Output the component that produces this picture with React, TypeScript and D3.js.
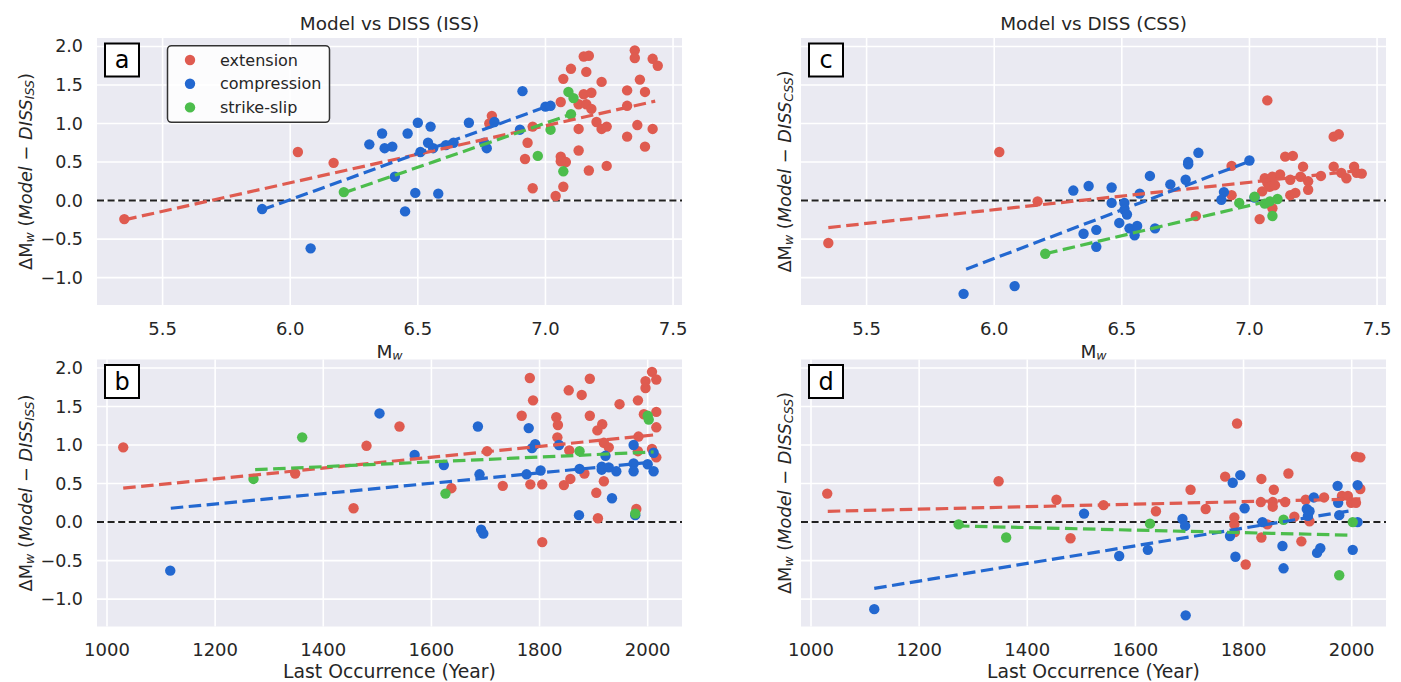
import * as d3 from "d3";

type Pt = [number, number];
type Fit = [number, number, number, number];

// colours for the three fault types
const COLORS = { ext: "#df5b50", comp: "#2368d0", strike: "#4cbd4c" };
const CATEGORIES = ["extension", "compression", "strike-slip"];

// panel a: Mw vs dISS
const aExt: Pt[] = [[5.35,-0.24],[6.03,0.63],[6.17,0.49],[6.79,1.1],[6.78,1.0],[6.95,0.96],[6.93,0.75],[6.92,0.54],[6.95,0.16],[7.04,0.06],[7.07,0.18],[7.06,0.57],[7.08,0.5],[7.06,0.51],[7.06,1.28],[7.07,1.58],[7.1,1.71],[7.15,1.87],[7.17,1.88],[7.16,1.67],[7.15,1.38],[7.18,1.4],[7.13,1.25],[7.16,1.25],[7.18,1.19],[7.13,0.93],[7.13,0.65],[7.17,0.39],[7.22,1.54],[7.2,1.02],[7.22,0.93],[7.24,0.96],[7.24,0.45],[7.32,1.43],[7.35,1.95],[7.35,1.85],[7.37,1.57],[7.32,1.23],[7.32,0.83],[7.36,0.98],[7.39,0.7],[7.39,1.41],[7.42,0.93],[7.42,1.84],[7.44,1.75]];
const aComp: Pt[] = [[5.89,-0.11],[6.08,-0.62],[6.31,0.73],[6.36,0.87],[6.37,0.68],[6.4,0.7],[6.41,0.31],[6.46,0.87],[6.45,-0.14],[6.5,1.01],[6.49,0.1],[6.51,0.63],[6.54,0.75],[6.55,0.96],[6.56,0.68],[6.58,0.09],[6.61,0.72],[6.64,0.75],[6.7,1.01],[6.76,0.75],[6.77,0.68],[6.8,1.02],[6.9,0.92],[6.91,1.42],[7.0,1.22],[7.02,1.23]];
const aStrike: Pt[] = [[6.21,0.11],[6.97,0.58],[7.02,0.92],[7.07,0.38],[7.09,1.41],[7.11,1.33],[7.1,1.12]];

// panel c: Mw vs dCSS
const cExt: Pt[] = [[5.35,-0.55],[6.02,0.63],[6.17,-0.01],[6.79,-0.2],[6.93,0.45],[6.93,0.07],[7.04,-0.24],[7.07,1.3],[7.06,0.29],[7.07,0.23],[7.08,0.18],[7.09,0.31],[7.09,-0.1],[7.12,0.34],[7.14,0.57],[7.17,0.58],[7.16,0.27],[7.16,0.07],[7.18,0.1],[7.2,0.31],[7.21,0.44],[7.23,0.25],[7.23,0.14],[7.33,0.44],[7.33,0.83],[7.35,0.86],[7.36,0.36],[7.38,0.29],[7.41,0.44],[7.42,0.36],[7.44,0.35],[7.1,0.2],[7.05,0.12],[7.28,0.32]];
const cComp: Pt[] = [[5.88,-1.21],[6.08,-1.11],[6.31,0.13],[6.35,-0.43],[6.37,0.19],[6.4,-0.38],[6.4,-0.6],[6.46,0.17],[6.46,-0.03],[6.49,-0.29],[6.51,-0.03],[6.51,-0.12],[6.52,-0.18],[6.53,-0.36],[6.55,-0.45],[6.56,-0.33],[6.57,0.09],[6.61,0.32],[6.63,-0.36],[6.69,0.21],[6.75,0.27],[6.76,0.47],[6.76,0.5],[6.8,0.62],[6.9,0.11],[6.89,0.01],[7.0,0.52],[7.02,0.04]];
const cStrike: Pt[] = [[6.2,-0.69],[6.96,-0.03],[7.02,0.05],[7.06,-0.04],[7.08,-0.01],[7.09,-0.2],[7.11,0.02]];

// panel b: year vs dISS
const bExt: Pt[] = [[1030,0.97],[1348,0.63],[1456,0.18],[1480,0.99],[1541,1.24],[1637,0.44],[1703,0.92],[1732,0.47],[1767,1.38],[1782,1.87],[1788,1.58],[1783,0.49],[1805,0.49],[1805,-0.26],[1831,1.36],[1834,1.26],[1833,1.1],[1845,0.48],[1857,0.56],[1854,1.71],[1878,1.65],[1893,1.86],[1855,0.93],[1883,0.63],[1893,1.38],[1905,0.38],[1908,0.05],[1907,1.19],[1916,1.27],[1919,1.03],[1928,0.97],[1919,0.53],[1948,1.53],[1979,0.17],[1982,1.58],[1982,0.92],[1983,1.11],[1996,1.74],[1996,1.83],[2008,1.95],[2016,1.85],[2016,1.43],[2016,1.23],[2016,0.84],[2008,0.95],[1993,1.4]];
const bComp: Pt[] = [[1117,-0.63],[1504,1.41],[1569,0.87],[1623,0.74],[1686,1.24],[1689,0.62],[1692,-0.1],[1696,-0.15],[1780,1.22],[1776,0.62],[1786,0.96],[1792,1.01],[1802,0.67],[1836,1.0],[1874,0.69],[1873,0.09],[1915,0.72],[1915,0.68],[1922,0.86],[1928,0.71],[1942,0.66],[1934,0.31],[1974,1.0],[1974,0.76],[1974,0.66],[1977,0.09],[2000,0.75],[2011,0.9],[2011,0.66]];
const bStrike: Pt[] = [[1271,0.56],[1361,1.1],[1626,0.37],[1874,0.92],[1977,0.11],[2000,1.38],[2002,1.33]];

// panel d: year vs dCSS
const dExt: Pt[] = [[1030,0.37],[1347,0.53],[1454,0.29],[1480,-0.21],[1541,0.22],[1638,0.14],[1702,0.42],[1730,0.17],[1766,0.59],[1788,1.28],[1783,0.06],[1783,-0.03],[1784,-0.13],[1804,-0.55],[1833,0.56],[1832,0.26],[1833,-0.2],[1844,-0.03],[1856,0.42],[1854,0.26],[1854,0.2],[1877,0.26],[1883,0.63],[1894,0.07],[1907,-0.25],[1915,0.29],[1922,0.01],[1949,0.32],[1982,0.34],[1993,0.34],[1999,0.25],[2008,0.85],[2016,0.84],[2016,0.43],[2008,0.25]];
const dComp: Pt[] = [[1117,-1.13],[1505,0.11],[1570,-0.44],[1623,-0.36],[1687,0.04],[1692,-0.05],[1693,-1.21],[1780,0.51],[1794,0.61],[1775,-0.18],[1785,-0.45],[1802,0.18],[1835,0.0],[1872,-0.31],[1874,-0.6],[1917,0.17],[1922,0.14],[1919,0.08],[1930,0.32],[1936,-0.4],[1942,-0.34],[1974,0.47],[1975,0.25],[1977,0.09],[2002,-0.36],[2011,0.0],[2011,0.48]];
const dStrike: Pt[] = [[1273,-0.03],[1361,-0.2],[1627,-0.02],[1874,0.03],[1977,-0.69],[2002,0.0]];

// regression lines [x0, y0, x1, y1] for ext / comp / strike
const aFits: Fit[] = [[5.35,-0.25,7.43,1.29],[5.89,-0.12,7.03,1.25],[6.21,0.1,7.1,1.12]];
const cFits: Fit[] = [[5.35,-0.35,7.43,0.39],[5.89,-0.89,7.0,0.51],[6.2,-0.69,7.12,0.03]];
const bFits: Fit[] = [[1030,0.44,2010,1.13],[1118,0.18,2011,0.78],[1274,0.68,2011,0.91]];
const dFits: Fit[] = [[1031,0.14,2016,0.3],[1117,-0.86,2000,0.15],[1270,-0.05,2000,-0.17]];

const MW_TICKS = [5.5, 6.0, 6.5, 7.0, 7.5];
const YEAR_TICKS = [1000, 1200, 1400, 1600, 1800, 2000];
const DY_TICKS = [-1.0, -0.5, 0.0, 0.5, 1.0, 1.5, 2.0];

const MW_DOMAIN: [number, number] = [5.243, 7.535];
const YEAR_DOMAIN: [number, number] = [981.5, 2063.5];
const DY_DOMAIN: [number, number] = [-1.355, 2.11];

const FONT = "DejaVu Sans, sans-serif";
const TEXT = "#262626";
const PW = 585;
const PH = 267;

interface PanelProps {
  left: number;
  top: number;
  xDomain: [number, number];
  xTicks: number[];
  xFmt: (v: number) => string;
  series: Pt[][];
  fits: Fit[];
  letter: string;
  yTickLabels: boolean;
  yLabelOffset: number;
  sub: string;
  title?: string;
  xLabel: "mw" | "year";
  legend?: boolean;
}

function Panel(p: PanelProps) {
  const x = d3.scaleLinear().domain(p.xDomain).range([p.left, p.left + PW]);
  const y = d3.scaleLinear().domain(DY_DOMAIN).range([p.top + PH, p.top]);
  const fmt = d3.format(".1f");
  const cols = [COLORS.ext, COLORS.comp, COLORS.strike];
  const cx = p.left + PW / 2;
  const cy = p.top + PH / 2;
  const lx = p.left - p.yLabelOffset;

  return (
    <g fontFamily={FONT} fill={TEXT}>
      {p.title && (
        <text x={cx} y={p.top - 15} textAnchor="middle" dominantBaseline="central" fontSize={18.4}>
          {p.title}
        </text>
      )}
      <rect x={p.left} y={p.top} width={PW} height={PH} fill="#eaeaf2" />
      {p.xTicks.map((t) => (
        <line key={"gx" + t} x1={x(t)} x2={x(t)} y1={p.top} y2={p.top + PH} stroke="#fff" strokeWidth={1.6} />
      ))}
      {DY_TICKS.map((t) => (
        <line key={"gy" + t} x1={p.left} x2={p.left + PW} y1={y(t)} y2={y(t)} stroke="#fff" strokeWidth={1.6} />
      ))}
      <line x1={p.left} x2={p.left + PW} y1={y(0)} y2={y(0)} stroke="#222" strokeWidth={2} strokeDasharray="7,3.6" />
      {p.series.map((pts, i) =>
        pts.map((d, j) => <circle key={`p${i}-${j}`} cx={x(d[0])} cy={y(d[1])} r={5.2} fill={cols[i]} />)
      )}
      {p.fits.map((f, i) => (
        <line
          key={"f" + i}
          x1={x(f[0])}
          y1={y(f[1])}
          x2={x(f[2])}
          y2={y(f[3])}
          stroke={cols[i]}
          strokeWidth={3.2}
          strokeDasharray="12.5,5.5"
        />
      ))}
      {/* tick labels */}
      {p.xTicks.map((t) => (
        <text key={"tx" + t} x={x(t)} y={p.top + PH + 23} textAnchor="middle" dominantBaseline="central" fontSize={18}>
          {p.xFmt(t)}
        </text>
      ))}
      {p.yTickLabels &&
        DY_TICKS.map((t) => (
          <text key={"ty" + t} x={p.left - 14} y={y(t)} textAnchor="end" dominantBaseline="central" fontSize={17.5}>
            {fmt(t)}
          </text>
        ))}
      {/* axis labels */}
      {p.xLabel === "mw" ? (
        <text x={cx} y={p.top + PH + 46} textAnchor="middle" dominantBaseline="central" fontSize={18.5}>
          M<tspan fontSize={12.5} fontStyle="italic" dy={4}>w</tspan>
        </text>
      ) : (
        <text x={cx} y={p.top + PH + 45} textAnchor="middle" dominantBaseline="central" fontSize={18.8}>
          Last Occurrence (Year)
        </text>
      )}
      <text
        transform={`translate(${lx},${cy}) rotate(-90)`}
        textAnchor="middle"
        dominantBaseline="central"
        fontSize={17.8}
      >
        ΔM<tspan fontSize={12.5} fontStyle="italic" dy={4}>w</tspan>
        <tspan dy={-4}> (</tspan>
        <tspan fontStyle="italic">Model − DISS</tspan>
        <tspan fontSize={12.5} fontStyle="italic" dy={4}>{p.sub}</tspan>
        <tspan dy={-4}>)</tspan>
      </text>
      {/* panel letter */}
      <rect x={p.left + 8} y={p.top + 5.5} width={34} height={33} fill="#fff" stroke="#000" strokeWidth={2} />
      <text x={p.left + 25} y={p.top + 22} textAnchor="middle" dominantBaseline="central" fontSize={24} fill="#000">
        {p.letter}
      </text>
      {p.legend && (
        <g>
          <rect x={p.left + 70.5} y={p.top + 7.7} width={162} height={76.6} rx={4} fill="#fff" fillOpacity={0.85} stroke="#333" strokeWidth={1.5} />
          {CATEGORIES.map((c, i) => (
            <g key={c}>
              <circle cx={p.left + 93} cy={p.top + 22 + i * 23.7} r={5.2} fill={cols[i]} />
              <text x={p.left + 123} y={p.top + 22 + i * 23.7} dominantBaseline="central" fontSize={16}>
                {c}
              </text>
            </g>
          ))}
        </g>
      )}
    </g>
  );
}

export default function App() {
  const mwFmt = d3.format(".1f");
  const yrFmt = (v: number) => String(v);
  return (
    <svg width={1401} height={682} style={{ position: "absolute", left: 0, top: 0, background: "#fff" }}>
      <Panel left={97} top={38} xDomain={MW_DOMAIN} xTicks={MW_TICKS} xFmt={mwFmt} series={[aExt, aComp, aStrike]} fits={aFits} letter="a" yTickLabels={true} yLabelOffset={72} sub="ISS" title="Model vs DISS (ISS)" xLabel="mw" legend />
      <Panel left={801} top={38} xDomain={MW_DOMAIN} xTicks={MW_TICKS} xFmt={mwFmt} series={[cExt, cComp, cStrike]} fits={cFits} letter="c" yTickLabels={false} yLabelOffset={17} sub="CSS" title="Model vs DISS (CSS)" xLabel="mw" />
      <Panel left={97} top={359.5} xDomain={YEAR_DOMAIN} xTicks={YEAR_TICKS} xFmt={yrFmt} series={[bExt, bComp, bStrike]} fits={bFits} letter="b" yTickLabels={true} yLabelOffset={72} sub="ISS" xLabel="year" />
      <Panel left={801} top={359.5} xDomain={YEAR_DOMAIN} xTicks={YEAR_TICKS} xFmt={yrFmt} series={[dExt, dComp, dStrike]} fits={dFits} letter="d" yTickLabels={false} yLabelOffset={17} sub="CSS" xLabel="year" />
    </svg>
  );
}
